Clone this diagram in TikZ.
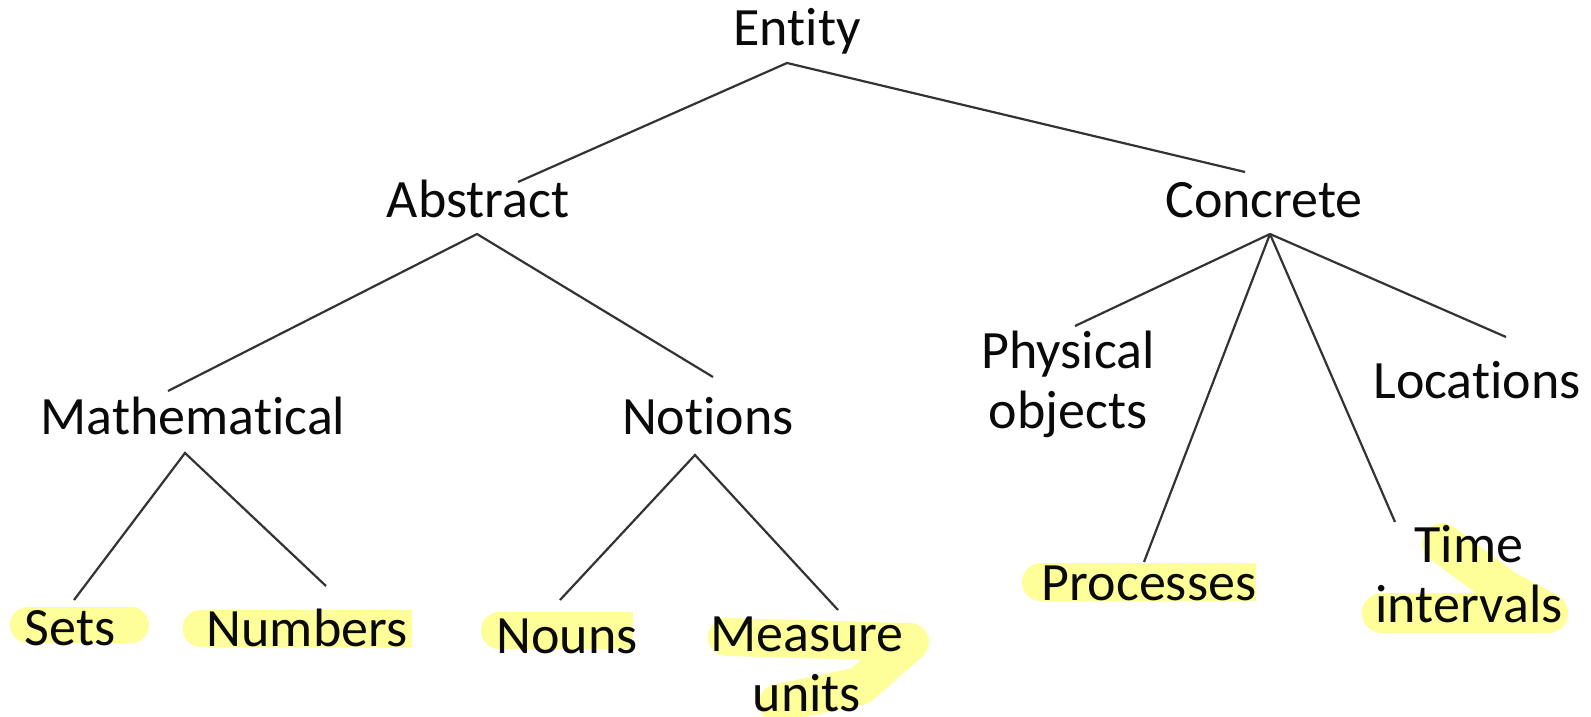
\documentclass[tikz,border=0pt]{standalone}
\usepackage{fontspec}
\setmainfont{Carlito}[Ligatures=NoCommon]
\definecolor{hlc}{HTML}{FFFF99}
\definecolor{edgec}{HTML}{333333}
\definecolor{txtc}{HTML}{0A0A0A}
\begin{document}
\begin{tikzpicture}[x=0.5pt,y=-0.5pt,
  lbl/.style={inner sep=0pt, outer sep=0pt, anchor=base, align=center, text=txtc,
    font=\fontsize{27pt}{30pt}\selectfont},
  edge/.style={draw=edgec, line width=1.1pt},
  hl/.style={draw=hlc, line cap=round, line join=round},
  hlfill/.style={fill=hlc}]
\useasboundingbox (0,0) rectangle (1591,717);
\fill[white] (0,0) rectangle (1591,717);

% highlighter strokes
\draw[hl, line width=18pt] (28,625) -- (131,625);
\draw[hl, line width=18.5pt] (201,628.5) -- (300,628.5);
\fill[hlfill] (201,610) rectangle (412,647);
\draw[hl, line width=18.5pt] (499.5,630.5) -- (550,630.5);
\fill[hlfill] (499.5,612) rectangle (633,649);
\draw[hl, line width=19pt] (1041,582) -- (1100,582);
\fill[hlfill] (1041,563) rectangle (1256,601);
\draw[hl, line width=19pt] (727,637) -- (910,642) -- (860,686) -- (778,703);
\draw[hl, line width=20pt] (1442,543) -- (1505,590) -- (1548,613) -- (1382,613);

% nodes
\node[lbl] (entity) at (797,46) {Entity};
\node[lbl] (abstract) at (478,218) {Abstract};
\node[lbl] (concrete) at (1264,218) {Concrete};
\node[lbl] (math) at (193,434) {Mathematical};
\node[lbl] (notions) at (708,434) {Notions};
\node[lbl] (physical) at (1068,428) {Physical\\objects};
\node[lbl] (locations) at (1477,398) {Locations};
\node[lbl] (sets) at (70,645) {Sets};
\node[lbl] (numbers) at (307,646) {Numbers};
\node[lbl] (nouns) at (567,653) {Nouns};
\node[lbl, text depth=0pt] (measure) at (807,711) {Measure\\units};
\node[lbl] (processes) at (1149,600) {Processes};
\node[lbl] (time) at (1469,622) {Time\\intervals};

% connector ends
\coordinate (entity-down) at (787,63);
\coordinate (abstract-up) at (518,182);
\coordinate (concrete-up) at (1245,172);
\coordinate (abstract-down) at (477,234);
\coordinate (math-up) at (168,391);
\coordinate (notions-up) at (713,377);
\coordinate (concrete-down) at (1270,234);
\coordinate (physical-up) at (1075,326);
\coordinate (processes-up) at (1144,562);
\coordinate (time-up) at (1395,522);
\coordinate (locations-up) at (1506,337);
\coordinate (math-down) at (185,453);
\coordinate (sets-up) at (74,600);
\coordinate (numbers-up) at (326,586);
\coordinate (notions-down) at (695,455);
\coordinate (nouns-up) at (560,600);
\coordinate (measure-up) at (838,610);

\draw[edge] (abstract-up) -- (entity-down) -- (concrete-up);
\draw[edge] (math-up) -- (abstract-down) -- (notions-up);
\draw[edge] (concrete-down) -- (physical-up);
\draw[edge] (concrete-down) -- (processes-up);
\draw[edge] (concrete-down) -- (time-up);
\draw[edge] (concrete-down) -- (locations-up);
\draw[edge] (sets-up) -- (math-down) -- (numbers-up);
\draw[edge] (nouns-up) -- (notions-down) -- (measure-up);
\end{tikzpicture}
\end{document}
